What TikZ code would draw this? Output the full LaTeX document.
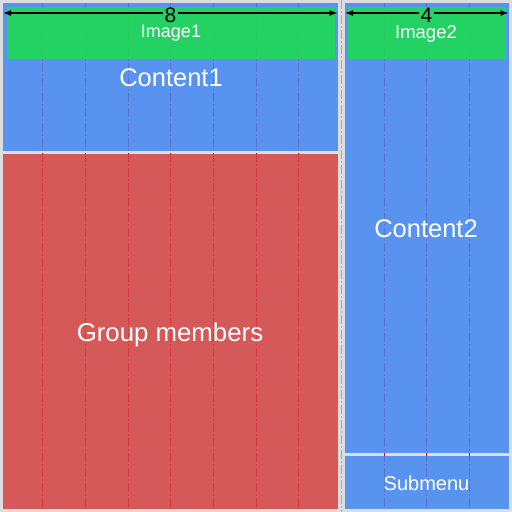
\documentclass[tikz,border=0pt]{standalone}
\usepackage{fontspec}
\setmainfont{Liberation Sans}
\usetikzlibrary{arrows.meta}
\definecolor{bggray}{HTML}{DDDDDD}
\definecolor{blk}{RGB}{65,135,244}
\definecolor{grn}{RGB}{27,222,75}
\definecolor{rd}{RGB}{213,67,67}
\definecolor{gridred}{RGB}{255,0,0}
\definecolor{gridpink}{RGB}{238,140,140}
\begin{document}
\begin{tikzpicture}[x=1pt,y=-1pt,
  panel/.style={fill opacity=0.85},
  lbl/.style={text=white, inner sep=0pt, anchor=base, text opacity=1},
  gridline/.style={line width=1pt, dash pattern=on 9pt off 2pt on 2pt off 2pt},
  dim/.style={draw=black, line width=1.3pt, -{Latex[length=8pt,width=6pt]}},
  dimlbl/.style={inner xsep=1.5pt, inner ysep=0pt, anchor=base, text=black, font=\fontsize{21}{21}\selectfont}]
\useasboundingbox (0,0) rectangle (512,512);
\fill[bggray] (0,0) rectangle (512,512);
% grid lines (under the translucent panels)
\foreach \i in {1,...,7,9,10,11} {
  \draw[gridline, draw=gridred] (\i*42.6667,3) -- (\i*42.6667,509);
}
\draw[gridline, draw=gridpink] (8*42.6667,0) -- (8*42.6667,512);
% panels
\fill[blk, panel] (3,3) rectangle (338,151);
\fill[rd, panel] (3,154) rectangle (338,509);
\fill[blk, panel] (344.5,3) rectangle (509,452.5);
\fill[blk, panel] (344.5,456) rectangle (509,509);
\fill[grn, panel] (7,7) rectangle (335,59);
\fill[grn, panel] (348,7) rectangle (505.5,59);
% labels
\node[lbl, font=\fontsize{18}{18}\selectfont] (img1) at (171,37) {Image1};
\node[lbl, font=\fontsize{18.5}{18.5}\selectfont] (img2) at (426,38) {Image2};
\node[lbl, font=\fontsize{25.5}{25.5}\selectfont] (c1) at (171,86) {Content1};
\node[lbl, font=\fontsize{25.5}{25.5}\selectfont] (c2) at (426,237) {Content2};
\node[lbl, font=\fontsize{25.8}{25.8}\selectfont] (gm) at (170,341) {Group members};
\node[lbl, font=\fontsize{20}{20}\selectfont] (sub) at (426.5,490) {Submenu};
% dimension arrows
\coordinate (a8l) at (3,13);
\coordinate (a8r) at (337.5,13);
\coordinate (a4l) at (345,13);
\coordinate (a4r) at (508.5,13);
\node[dimlbl] (n8) at (170.5,22) {8};
\node[dimlbl] (n4) at (426.5,22) {4};
\draw[dim] (n8.west |- a8l) -- (a8l);
\draw[dim] (n8.east |- a8r) -- (a8r);
\draw[dim] (n4.west |- a4l) -- (a4l);
\draw[dim] (n4.east |- a4r) -- (a4r);
\end{tikzpicture}
\end{document}
